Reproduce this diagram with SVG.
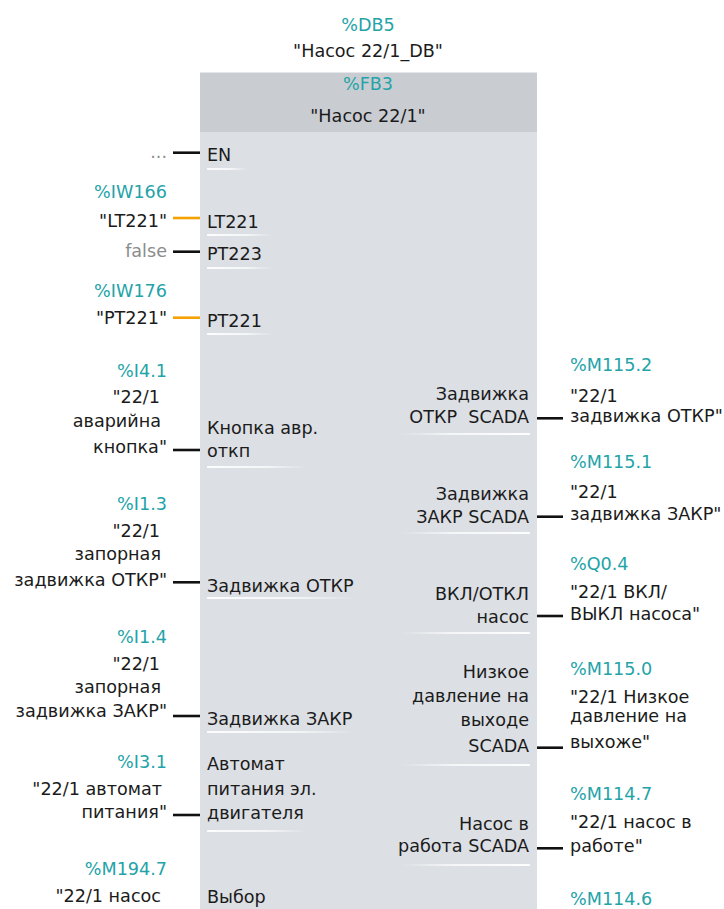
<svg xmlns="http://www.w3.org/2000/svg" width="724" height="909" viewBox="0 0 724 909">
  <defs>
    <linearGradient id="fadeR" x1="0" y1="0" x2="1" y2="0">
      <stop offset="0" stop-color="#ffffff" stop-opacity="0.95"/>
      <stop offset="0.6" stop-color="#ffffff" stop-opacity="0.7"/>
      <stop offset="1" stop-color="#ffffff" stop-opacity="0"/>
    </linearGradient>
    <linearGradient id="fadeL" x1="1" y1="0" x2="0" y2="0">
      <stop offset="0" stop-color="#ffffff" stop-opacity="0.95"/>
      <stop offset="0.6" stop-color="#ffffff" stop-opacity="0.7"/>
      <stop offset="1" stop-color="#ffffff" stop-opacity="0"/>
    </linearGradient>
    <style>
      text { font-family: "DejaVu Sans", "Noto Sans", sans-serif; font-size: 17.6px; fill: #1b1b1b; }
      .addr { fill: #23a3a8; }
      .const { fill: #8c8c8c; }
      .end { text-anchor: end; }
      .mid { text-anchor: middle; }
      .wire { stroke: #111111; stroke-width: 2.6; fill: none; }
      .wire.word { stroke: #f5a200; }
      .ul-l { fill: url(#fadeR); }
      .ul-r { fill: url(#fadeL); }
    </style>
  </defs>

  <!-- instance data block -->
  <g id="db5">
    <text class="addr mid" x="368" y="31">%DB5</text>
    <text class="mid" x="368" y="57">"Насос 22/1_DB"</text>
  </g>

  <!-- function block body -->
  <g id="fb3">
    <rect x="200" y="132" width="337" height="777" fill="#dcdfe4"/>
    <rect x="200" y="72" width="337" height="60" fill="#c9ccd1"/>
    <line x1="200" y1="72.5" x2="537" y2="72.5" stroke="#e4e6ea" stroke-width="1"/>
    <text class="addr mid" x="368" y="90">%FB3</text>
    <text class="mid" x="368" y="122">"Насос 22/1"</text>

    <!-- input pins -->
    <text x="207" y="161">EN</text>
    <rect class="ul-l" x="207" y="168" width="40" height="2"/>
    <text x="207" y="228">LT221</text>
    <rect class="ul-l" x="207" y="234" width="66" height="2"/>
    <text x="207" y="260">PT223</text>
    <rect class="ul-l" x="207" y="267" width="66" height="2"/>
    <text x="207" y="327">PT221</text>
    <rect class="ul-l" x="207" y="333" width="66" height="2"/>
    <text x="207" y="434">Кнопка авр.</text>
    <text x="207" y="457">откп</text>
    <rect class="ul-l" x="207" y="466" width="100" height="2"/>
    <text x="207" y="592">Задвижка ОТКР</text>
    <rect class="ul-l" x="207" y="597" width="150" height="2"/>
    <text x="207" y="725">Задвижка ЗАКР</text>
    <rect class="ul-l" x="207" y="731" width="150" height="2"/>
    <text x="207" y="770">Автомат</text>
    <text x="207" y="795">питания эл.</text>
    <text x="207" y="819">двигателя</text>
    <rect class="ul-l" x="207" y="830" width="100" height="2"/>
    <text x="207" y="903">Выбор</text>

    <!-- output pins -->
    <text class="end" x="529" y="400">Задвижка</text>
    <text class="end" x="529" y="423">ОТКР&#160; SCADA</text>
    <rect class="ul-r" x="400" y="433" width="130" height="2"/>
    <text class="end" x="529" y="500">Задвижка</text>
    <text class="end" x="529" y="523">ЗАКР SCADA</text>
    <rect class="ul-r" x="400" y="532" width="130" height="2"/>
    <text class="end" x="529" y="600">ВКЛ/ОТКЛ</text>
    <text class="end" x="529" y="623">насос</text>
    <rect class="ul-r" x="400" y="632" width="130" height="2"/>
    <text class="end" x="529" y="678">Низкое</text>
    <text class="end" x="529" y="702">давление на</text>
    <text class="end" x="529" y="726">выходе</text>
    <text class="end" x="529" y="752">SCADA</text>
    <rect class="ul-r" x="400" y="764" width="130" height="2"/>
    <text class="end" x="529" y="830">Насос в</text>
    <text class="end" x="529" y="852">работа SCADA</text>
    <rect class="ul-r" x="400" y="864" width="130" height="2"/>
  </g>

  <!-- connectors -->
  <g id="connectors">
    <line class="wire" x1="173" y1="152.7" x2="200" y2="152.7"/>
    <line class="wire word" x1="173" y1="218" x2="200" y2="218"/>
    <line class="wire" x1="173" y1="251.7" x2="200" y2="251.7"/>
    <line class="wire word" x1="173" y1="317.7" x2="200" y2="317.7"/>
    <line class="wire" x1="173" y1="450" x2="200" y2="450"/>
    <line class="wire" x1="173" y1="582.3" x2="200" y2="582.3"/>
    <line class="wire" x1="173" y1="716" x2="200" y2="716"/>
    <line class="wire" x1="173" y1="815" x2="200" y2="815"/>
    <line class="wire" x1="537" y1="418.3" x2="563" y2="418.3"/>
    <line class="wire" x1="537" y1="516.7" x2="563" y2="516.7"/>
    <line class="wire" x1="537" y1="616" x2="563" y2="616"/>
    <line class="wire" x1="537" y1="747.7" x2="563" y2="747.7"/>
    <line class="wire" x1="537" y1="848.3" x2="563" y2="848.3"/>
  </g>

  <!-- input operands -->
  <g id="op-en">
    <text class="const end" x="167" y="158">...</text>
  </g>
  <g id="op-lt221">
    <text class="addr end" x="167" y="198">%IW166</text>
    <text class="end" x="167" y="227">"LT221"</text>
  </g>
  <g id="op-pt223">
    <text class="const end" x="167" y="257">false</text>
  </g>
  <g id="op-pt221">
    <text class="addr end" x="167" y="297">%IW176</text>
    <text class="end" x="167" y="324">"PT221"</text>
  </g>
  <g id="op-i4-1">
    <text class="addr end" x="167" y="377">%I4.1</text>
    <text class="end" x="160" y="403">"22/1</text>
    <text class="end" x="161" y="427">аварийна</text>
    <text class="end" x="167" y="453">кнопка"</text>
  </g>
  <g id="op-i1-3">
    <text class="addr end" x="167" y="510">%I1.3</text>
    <text class="end" x="160" y="537">"22/1</text>
    <text class="end" x="161" y="560">запорная</text>
    <text class="end" x="167" y="586">задвижка ОТКР"</text>
  </g>
  <g id="op-i1-4">
    <text class="addr end" x="167" y="643">%I1.4</text>
    <text class="end" x="160" y="670">"22/1</text>
    <text class="end" x="161" y="693">запорная</text>
    <text class="end" x="167" y="717">задвижка ЗАКР"</text>
  </g>
  <g id="op-i3-1">
    <text class="addr end" x="167" y="768">%I3.1</text>
    <text class="end" x="162" y="795">"22/1 автомат</text>
    <text class="end" x="167" y="818">питания"</text>
  </g>
  <g id="op-m194-7">
    <text class="addr end" x="167" y="875">%M194.7</text>
    <text class="end" x="161" y="902">"22/1 насос</text>
  </g>

  <!-- output operands -->
  <g id="op-m115-2">
    <text class="addr" x="570" y="371">%M115.2</text>
    <text x="570" y="402">"22/1</text>
    <text x="570" y="422">задвижка ОТКР"</text>
  </g>
  <g id="op-m115-1">
    <text class="addr" x="570" y="468">%M115.1</text>
    <text x="570" y="498">"22/1</text>
    <text x="570" y="520">задвижка ЗАКР"</text>
  </g>
  <g id="op-q0-4">
    <text class="addr" x="570" y="570">%Q0.4</text>
    <text x="570" y="598">"22/1 ВКЛ/</text>
    <text x="570" y="620">ВЫКЛ насоса"</text>
  </g>
  <g id="op-m115-0">
    <text class="addr" x="570" y="675">%M115.0</text>
    <text x="570" y="703">"22/1 Низкое</text>
    <text x="570" y="722">давление на</text>
    <text x="570" y="748">выхоже"</text>
  </g>
  <g id="op-m114-7">
    <text class="addr" x="570" y="800">%M114.7</text>
    <text x="570" y="828">"22/1 насос в</text>
    <text x="570" y="852">работе"</text>
  </g>
  <g id="op-m114-6">
    <text class="addr" x="570" y="905">%M114.6</text>
  </g>
</svg>
